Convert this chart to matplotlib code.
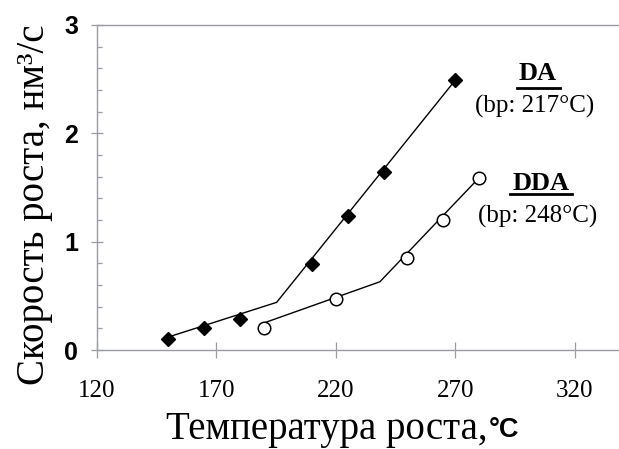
import matplotlib
matplotlib.use("Agg")
import matplotlib.pyplot as plt
from matplotlib.ticker import MultipleLocator, FixedLocator

# Measured growth rates (nm^3/s) vs. growth temperature (°C)
da_temp = [150, 165, 180, 210, 225, 240, 270]
da_rate = [0.10, 0.20, 0.29, 0.79, 1.24, 1.64, 2.49]

dda_temp = [190, 220, 250, 265, 280]
dda_rate = [0.20, 0.47, 0.85, 1.20, 1.59]

# Two-segment trend lines (knots)
da_fit_temp = [150, 195.3, 270]
da_fit_rate = [0.12, 0.44, 2.49]

dda_fit_temp = [190, 238.5, 280]
dda_fit_rate = [0.25, 0.63, 1.59]

x_ticks = [120, 170, 220, 270, 320]
y_ticks = [0, 1, 2, 3]

SERIF = "Liberation Serif"
SANS = "Liberation Sans"
AXIS_GRAY = "#9a9ca4"
W, H = 619, 449

fig = plt.figure(figsize=(W / 100, H / 100), dpi=100)
ax = fig.add_axes([96.7 / W, 1 - 350 / H, 1 - 96.7 / W, 325 / H])

ax.plot(da_fit_temp, da_fit_rate, color="black", lw=1.0, zorder=2)
ax.plot(dda_fit_temp, dda_fit_rate, color="black", lw=1.0, zorder=2)
ax.plot(da_temp, da_rate, linestyle="none", marker="D", markersize=7,
        markerfacecolor="black", markeredgecolor="black", zorder=3)
ax.plot(dda_temp, dda_rate, linestyle="none", marker="o", markersize=9,
        markerfacecolor="white", markeredgecolor="black", markeredgewidth=1.1,
        zorder=3)

ax.set_xlim(120, 120 + (W - 96.7) / 2.39)
ax.set_ylim(0, 3)

ax.xaxis.set_major_locator(FixedLocator(x_ticks))
ax.yaxis.set_major_locator(FixedLocator(y_ticks))
ax.yaxis.set_minor_locator(MultipleLocator(0.2))

for side in ("left", "top", "bottom"):
    ax.spines[side].set_color(AXIS_GRAY)
    ax.spines[side].set_linewidth(1.0)
ax.spines["right"].set_visible(False)

ax.tick_params(axis="x", which="major", direction="inout", length=11,
               width=0.9, color=AXIS_GRAY, pad=16)
ax.tick_params(axis="y", which="major", direction="inout", length=9,
               width=0.9, color=AXIS_GRAY, pad=9)
ax.tick_params(axis="y", which="minor", direction="in", length=3.5,
               width=0.9, color=AXIS_GRAY)

ax.set_xticklabels([str(t) for t in x_ticks], fontfamily=SERIF, fontsize=18)
ax.set_yticklabels([str(t) for t in y_ticks], fontfamily=SANS, fontsize=18,
                   fontweight="bold")

# Axis titles; the unit follows the serif part in a bold sans face
xlab = fig.text(166 / W, 1 - 430 / H, "Температура роста,", fontfamily=SERIF,
                fontsize=28, ha="left", va="center")
fig.canvas.draw()
x_end = xlab.get_window_extent(fig.canvas.get_renderer()).x1
fig.text((x_end + 1) / W, 1 - 430 / H, "°C", fontfamily=SANS,
         fontweight="bold", fontsize=19.5, ha="left", va="center")
fig.text(35 / W, 1 - 205 / H, "Скорость роста, нм³/с", fontfamily=SERIF,
         fontsize=28, rotation=90, ha="center", va="center")

# Series annotations
def series_label(x_px, y_px, name, bp, bp_y_px, underline_y_px, half_w):
    fig.text(x_px / W, 1 - y_px / H, name, fontfamily=SERIF,
             fontweight="bold", fontsize=19, ha="center", va="center")
    fig.add_artist(plt.Line2D([(x_px - half_w) / W, (x_px + half_w) / W],
                              [1 - underline_y_px / H] * 2,
                              color="black", lw=2.0))
    fig.text((x_px - 3) / W, 1 - bp_y_px / H, bp, fontfamily=SERIF,
             fontsize=18, ha="center", va="center")

series_label(538, 74, "DA", "(bp: 217°C)", 106, 87.5, 21.5)
series_label(541, 183, "DDA", "(bp: 248°C)", 216, 194, 31)

fig.savefig("out.png", dpi=100)
